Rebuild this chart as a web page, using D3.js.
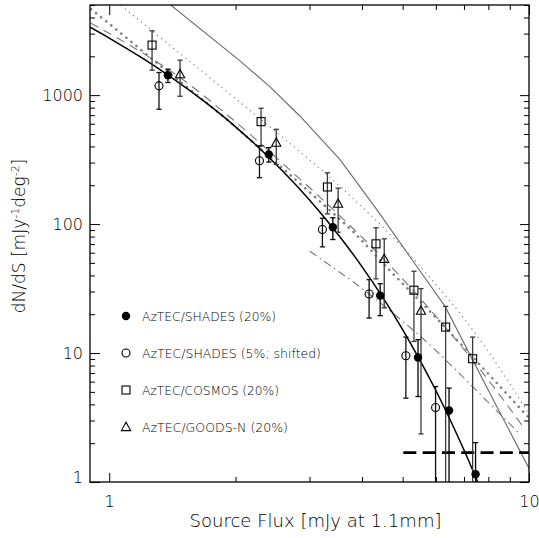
<!DOCTYPE html>
<html><head><meta charset="utf-8">
<script src="https://cdn.jsdelivr.net/npm/d3@7"></script>
<style>
html,body{margin:0;padding:0;background:#fff;}
svg{display:block;}
text{font-family:"DejaVu Sans","Liberation Sans",sans-serif;fill:#000;}
</style></head>
<body>
<svg id="chart" width="539" height="538"></svg>
<script>
// ---------------- data ----------------
const xDomain = [0.9, 10];
const yDomain = [1, 5000];
const xTickLabels = [1, 10];
const yTickLabels = [1, 10, 100, 1000];

// AzTEC/SHADES (20%) - filled circles
const shades20S  = [1.38, 2.40, 3.41, 4.42, 5.44, 6.45, 7.46];
const shades20N  = [1428, 347, 94.6, 27.9, 9.24, 3.58, 1.15];
const shades20Hi = [1589, 392, 112, 34.5, 12.7, 5.35, 2.02];
const shades20Lo = [1253, 303, 75.9, 19.5, 4.6, 0.5, 0.5];

// AzTEC/SHADES (5%; shifted) - open circles
const shades5S  = [1.314, 2.28, 3.22, 4.16, 5.09, 5.99];
const shades5N  = [1180, 310, 90.8, 28.7, 9.53, 3.78];
const shades5Hi = [1498, 405, 111, 37.1, 13.3, 5.5];
const shades5Lo = [777, 229, 66.6, 18.7, 4.47, 0.5];

// AzTEC/COSMOS (20%) - open squares
const cosmosS  = [1.265, 2.30, 3.31, 4.32, 5.32, 6.33, 7.34];
const cosmosN  = [2443, 623, 194, 70.3, 30.7, 15.9, 9.03];
const cosmosHi = [3155, 791, 250, 93.6, 43.1, 23.0, 13.3];
const cosmosLo = [1561, 403, 120, 37.6, 12.3, 0.5, 0.5];

// AzTEC/GOODS-N (20%) - open triangles
const goodsS  = [1.475, 2.50, 3.51, 4.52, 5.53];
const goodsN  = [1453, 428, 144, 53.7, 21.3];
const goodsHi = [1868, 543, 190, 76.9, 31.6];
const goodsLo = [980, 290, 86.5, 22.4, 2.36];

// best fit (black solid)
const fitS = [0.9, 1.0, 1.2, 1.4, 1.7, 2.0, 2.4, 2.8, 3.2, 3.6, 4.0, 4.5, 5.0, 5.5, 6.0, 6.5, 7.0, 7.5, 7.7];
const fitN = [3364, 2771, 1933, 1387, 874, 568, 330, 197.5, 120.5, 74.7, 46.8, 26.5, 15.2, 8.78, 5.12, 3.00, 1.77, 1.05, 0.855];

// model curves (gray)
const modelSolidS = [1.30, 1.392, 2.025, 2.413, 2.845, 3.543, 4.335, 5.40, 6.31, 8.22, 10.05];
const modelSolidN = [6085, 5085, 1901, 1166, 689, 318, 130, 47.1, 23.0, 4.34, 1.24];

const modelDotS = [0.976, 1.057, 1.988, 2.55, 3.677, 5.40, 7.64, 10.0];
const modelDotN = [6302, 5085, 954, 491, 176, 50.3, 12.7, 3.38];

const modelBigDotS = [0.905, 1.065, 1.284, 1.991, 2.285, 3.176, 3.807, 4.665, 6.135, 7.64, 10.0];
const modelBigDotN = [4651, 3027, 1834, 573, 387, 150, 87.6, 43.6, 17.5, 8.11, 3.14];

const modelDashS = [0.902, 1.087, 1.539, 1.847, 2.285, 2.693, 3.176, 3.745, 4.665, 5.704, 6.365, 7.365, 8.53, 9.78];
const modelDashN = [3621, 2577, 1237, 769, 427, 263, 162, 97.5, 47.7, 23.3, 15.4, 8.71, 4.69, 2.56];

const modelDashDotS = [3.006, 3.447, 3.955, 4.837, 5.598, 6.724, 7.93, 9.52];
const modelDashDotN = [61.6, 45.0, 32.6, 19.3, 12.9, 7.29, 4.26, 2.35];

// completeness limit (thick dashed)
const limitS = [5.02, 10];
const limitN = [1.69, 1.69];

const legendLabels = ["AzTEC/SHADES (20%)", "AzTEC/SHADES (5%; shifted)", "AzTEC/COSMOS (20%)", "AzTEC/GOODS-N (20%)"];

// ---------------- layout ----------------
const svg = d3.select("#chart");
const L = 90, R = 529, T = 5, B = 482;
const x = d3.scaleLog().domain(xDomain).range([L, R]);
const y = d3.scaleLog().domain(yDomain).range([B, T]);
const FONT = '"DejaVu Sans","Liberation Sans",sans-serif';

svg.append("defs").append("clipPath").attr("id","clip")
  .append("rect").attr("x",L).attr("y",T).attr("width",R-L).attr("height",B-T);
const plot = svg.append("g").attr("clip-path","url(#clip)");

function zip(a,b){ return a.map((v,i)=>[v,b[i]]); }
const lineLin = d3.line().x(d=>x(d[0])).y(d=>y(d[1]));
const lineSmooth = d3.line().x(d=>x(d[0])).y(d=>y(d[1])).curve(d3.curveMonotoneX);

// model curves
plot.append("path").attr("d", lineLin(zip(modelSolidS, modelSolidN)))
  .attr("fill","none").attr("stroke","#6a6a6a").attr("stroke-width",1.1);
plot.append("path").attr("d", lineSmooth(zip(modelDotS, modelDotN)))
  .attr("fill","none").attr("stroke","#7a7a7a").attr("stroke-width",1.1)
  .attr("stroke-dasharray","1.2,4");
plot.append("path").attr("d", lineSmooth(zip(modelBigDotS, modelBigDotN)))
  .attr("fill","none").attr("stroke","#808080").attr("stroke-width",2.6)
  .attr("stroke-linecap","round").attr("stroke-dasharray","0.1,6.4");
plot.append("path").attr("d", lineSmooth(zip(modelDashS, modelDashN)))
  .attr("fill","none").attr("stroke","#777").attr("stroke-width",1.1)
  .attr("stroke-dasharray","9,6");
plot.append("path").attr("d", lineSmooth(zip(modelDashDotS, modelDashDotN)))
  .attr("fill","none").attr("stroke","#777").attr("stroke-width",1.1)
  .attr("stroke-dasharray","8,4,1.5,4");

// best fit
plot.append("path").attr("d", lineSmooth(zip(fitS, fitN)))
  .attr("fill","none").attr("stroke","#000").attr("stroke-width",1.5);

// limit
plot.append("path").attr("d", lineLin(zip(limitS, limitN)))
  .attr("fill","none").attr("stroke","#000").attr("stroke-width",2.6)
  .attr("stroke-dasharray","13,6.3");

// error bars + markers
function drawMarker(g, px, py, shape){
  if(shape==="filled"){
    g.append("circle").attr("cx",px).attr("cy",py).attr("r",4.2).attr("fill","#000");
  } else if(shape==="circle"){
    g.append("circle").attr("cx",px).attr("cy",py).attr("r",4).attr("fill","none")
      .attr("stroke","#000").attr("stroke-width",1.1);
  } else if(shape==="square"){
    g.append("rect").attr("x",px-4).attr("y",py-4).attr("width",8).attr("height",8)
      .attr("fill","none").attr("stroke","#000").attr("stroke-width",1.1);
  } else {
    g.append("path").attr("d",`M${px-4.6},${py+3.6}L${px+4.6},${py+3.6}L${px},${py-4.8}Z`)
      .attr("fill","none").attr("stroke","#000").attr("stroke-width",1.1);
  }
}
function drawSeries(S, N, Hi, Lo, shape, barColor){
  const g = plot.append("g");
  S.forEach((s,i)=>{
    const px = x(s);
    g.append("line").attr("x1",px).attr("x2",px).attr("y1",y(Hi[i])).attr("y2",y(Lo[i]))
      .attr("stroke",barColor).attr("stroke-width",1.3);
    [Hi[i], Lo[i]].forEach(v=>{
      g.append("line").attr("x1",px-2.6).attr("x2",px+2.6).attr("y1",y(v)).attr("y2",y(v))
        .attr("stroke",barColor).attr("stroke-width",1.3);
    });
  });
  S.forEach((s,i)=> drawMarker(g, x(s), y(N[i]), shape));
}
drawSeries(cosmosS, cosmosN, cosmosHi, cosmosLo, "square", "#3a3a3a");
drawSeries(goodsS, goodsN, goodsHi, goodsLo, "triangle", "#3a3a3a");
drawSeries(shades5S, shades5N, shades5Hi, shades5Lo, "circle", "#111");
drawSeries(shades20S, shades20N, shades20Hi, shades20Lo, "filled", "#000");

// ---------------- axes ----------------
const minorXT = [2,3,4,5,6,7,8,9];
const minorY = [];
[1,10,100,1000].forEach(dec=>{ for(let k=2;k<10;k++){ const v=k*dec; if(v<=5000) minorY.push(v);} });

function styleAxis(g){
  g.select(".domain").remove();
  g.selectAll(".tick line").attr("stroke","#000").attr("stroke-width",1);
  g.selectAll("text").attr("font-family",FONT)
    .attr("font-size",16).attr("fill","#000").attr("font-weight",200);
}
// left
svg.append("g").attr("transform",`translate(${L},0)`)
  .call(d3.axisLeft(y).tickValues(yTickLabels).tickSize(-10).tickPadding(7).tickFormat(d3.format("d")))
  .call(styleAxis)
  .call(g=>g.selectAll(".tick").filter(d=>d===1).select("text").attr("dy","0.05em"));
svg.append("g").attr("transform",`translate(${L},0)`)
  .call(d3.axisLeft(y).tickValues(minorY).tickSize(-5).tickFormat(""))
  .call(styleAxis);
// right
svg.append("g").attr("transform",`translate(${R},0)`)
  .call(d3.axisRight(y).tickValues(yTickLabels).tickSize(-9).tickFormat(""))
  .call(styleAxis);
svg.append("g").attr("transform",`translate(${R},0)`)
  .call(d3.axisRight(y).tickValues(minorY).tickSize(-5).tickFormat(""))
  .call(styleAxis);
// bottom
svg.append("g").attr("transform",`translate(0,${B})`)
  .call(d3.axisBottom(x).tickValues(xTickLabels).tickSize(-9).tickPadding(14).tickFormat(d3.format("d")))
  .call(styleAxis);
svg.append("g").attr("transform",`translate(0,${B})`)
  .call(d3.axisBottom(x).tickValues(minorXT).tickSize(-5).tickFormat(""))
  .call(styleAxis);
// top
svg.append("g").attr("transform",`translate(0,${T})`)
  .call(d3.axisTop(x).tickValues(xTickLabels).tickSize(-10).tickFormat(""))
  .call(styleAxis);
svg.append("g").attr("transform",`translate(0,${T})`)
  .call(d3.axisTop(x).tickValues(minorXT).tickSize(-5).tickFormat(""))
  .call(styleAxis);

// frame
svg.append("rect").attr("x",L).attr("y",T).attr("width",R-L).attr("height",B-T)
  .attr("fill","none").attr("stroke","#000").attr("stroke-width",1.3);

// axis titles
svg.append("text").attr("x",(L+R)/2+6).attr("y",527).attr("text-anchor","middle")
  .attr("font-size",17).attr("font-weight",200)
  .attr("textLength",252).attr("lengthAdjust","spacingAndGlyphs")
  .text("Source Flux [mJy at 1.1mm]");

const yt = svg.append("text").attr("transform","translate(25,236) rotate(-90)")
  .attr("text-anchor","middle").attr("font-size",17).attr("font-weight",200);
yt.append("tspan").text("dN/dS [mJy");
yt.append("tspan").attr("dy",-6).attr("font-size",11).text("-1");
yt.append("tspan").attr("dy",6).text("deg");
yt.append("tspan").attr("dy",-6).attr("font-size",11).text("-2");
yt.append("tspan").attr("dy",6).text("]");

// legend
const legY = [316, 353, 390, 427];
const legShapes = ["filled","circle","square","triangle"];
const legWidths = [134, 179, 137, 146];
const leg = svg.append("g");
legendLabels.forEach((t,i)=>{
  drawMarker(leg, 126, legY[i], legShapes[i]);
  leg.append("text").attr("x",142).attr("y",legY[i]+4.5).attr("font-size",12.5)
    .attr("font-weight",200)
    .attr("textLength",legWidths[i]).attr("lengthAdjust","spacingAndGlyphs").text(t);
});
</script>
</body></html>
